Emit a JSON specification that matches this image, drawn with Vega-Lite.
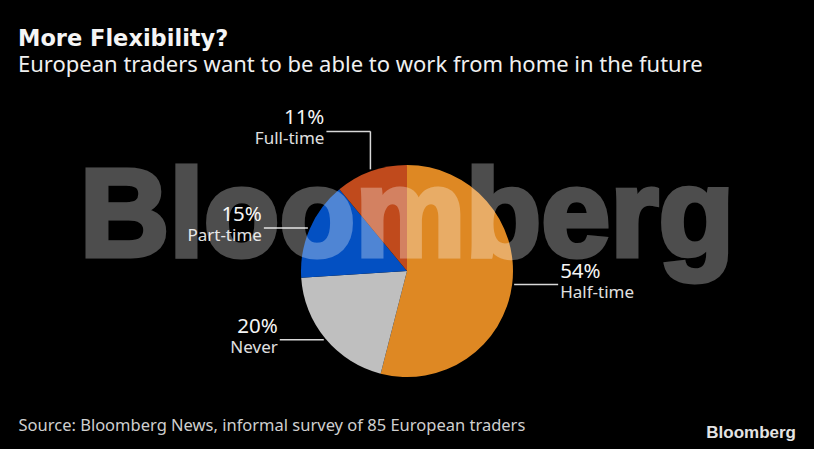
{
  "$schema": "https://vega.github.io/schema/vega-lite/v6.json",
  "width": 778,
  "height": 335,
  "autosize": "none",
  "padding": {"left": 18, "right": 18, "top": 64, "bottom": 50},
  "background": "#000000",
  "config": {"view": {"stroke": null}, "font": "Noto Sans"},
  "title": {
    "text": "More Flexibility?",
    "subtitle": "European traders want to be able to work from home in the future",
    "anchor": "start",
    "frame": "group",
    "offset": -12,
    "color": "#f5f5f5",
    "font": "DejaVu Sans",
    "fontSize": 22.5,
    "fontWeight": "bold",
    "subtitleColor": "#f0f0f0",
    "subtitleFont": "Noto Sans",
    "subtitleFontSize": 22,
    "subtitlePadding": 5
  },
  "data": {
    "values": [
      {"label": "Half-time", "share": 54, "rank": 1},
      {"label": "Never", "share": 20, "rank": 2},
      {"label": "Part-time", "share": 15, "rank": 3},
      {"label": "Full-time", "share": 11, "rank": 4}
    ]
  },
  "transform": [
    {"window": [{"op": "sum", "field": "share", "as": "cum"}], "sort": [{"field": "rank"}], "frame": [null, 0]},
    {"calculate": "(datum.cum - datum.share / 2) / 100 * 2 * PI", "as": "mid"},
    {"calculate": "108 * sin(datum.mid)", "as": "edgeX"},
    {"calculate": "-108 * cos(datum.mid)", "as": "edgeY"},
    {"calculate": "datum.edgeX > 0 ? 1 : -1", "as": "side"},
    {"calculate": "abs(cos(datum.mid)) > 0.9", "as": "elbow"},
    {"calculate": "datum.elbow ? datum.edgeY - 38 : datum.edgeY", "as": "stemY"},
    {"calculate": "datum.edgeX + datum.side * 44", "as": "endX"},
    {"calculate": "datum.endX + datum.side * 2", "as": "textX"},
    {"calculate": "datum.share + '%'", "as": "pct"}
  ],
  "encoding": {
    "x": {
      "type": "quantitative",
      "scale": {"domain": [-389, 389]},
      "axis": {
        "title": "Source: Bloomberg News, informal survey of 85 European traders",
        "titleAnchor": "start",
        "titleColor": "#cfcfcf",
        "titleFont": "Noto Sans",
        "titleFontSize": 16.5,
        "titleFontWeight": "normal",
        "titlePadding": 18,
        "labels": false,
        "ticks": false,
        "domain": false,
        "grid": false
      }
    },
    "y": {
      "type": "quantitative",
      "scale": {"domain": [-207, 128], "reverse": true},
      "axis": null
    }
  },
  "layer": [
    {
      "mark": {"type": "arc", "outerRadius": 106},
      "encoding": {
        "x": {"datum": 0},
        "y": {"datum": 0},
        "theta": {"field": "share", "type": "quantitative", "stack": true},
        "order": {"field": "rank", "type": "quantitative"},
        "color": {
          "field": "label",
          "type": "nominal",
          "legend": null,
          "scale": {
            "domain": ["Half-time", "Never", "Part-time", "Full-time"],
            "range": ["#de8823", "#bfbfbf", "#0350c2", "#c04a1c"]
          }
        }
      }
    },
    {
      "mark": {"type": "rule", "color": "#d8d8d8", "strokeWidth": 1.5},
      "encoding": {
        "x": {"field": "edgeX"},
        "x2": {"field": "endX"},
        "y": {"field": "stemY"}
      }
    },
    {
      "transform": [{"filter": "datum.elbow"}],
      "mark": {"type": "rule", "color": "#d8d8d8", "strokeWidth": 1.5},
      "encoding": {
        "x": {"field": "edgeX"},
        "y": {"field": "edgeY"},
        "y2": {"field": "stemY"}
      }
    },
    {
      "mark": {
        "type": "text",
        "fontSize": 20.5,
        "color": "#f5f5f5",
        "baseline": "middle",
        "dy": -13,
        "align": {"expr": "datum.side > 0 ? 'left' : 'right'"}
      },
      "encoding": {
        "x": {"field": "textX"},
        "y": {"field": "stemY"},
        "text": {"field": "pct"}
      }
    },
    {
      "mark": {
        "type": "text",
        "fontSize": 17,
        "color": "#e0e0e0",
        "baseline": "middle",
        "dy": 8,
        "align": {"expr": "datum.side > 0 ? 'left' : 'right'"}
      },
      "encoding": {
        "x": {"field": "textX"},
        "y": {"field": "stemY"},
        "text": {"field": "label"}
      }
    },
    {
      "data": {"values": [{"name": "Bloomberg"}]},
      "mark": {
        "type": "text",
        "font": "Liberation Sans",
        "fontWeight": "bold",
        "fontSize": 124,
        "fill": "#ffffff",
        "stroke": "#ffffff",
        "strokeWidth": 5,
        "opacity": 0.3,
        "align": "center",
        "baseline": "alphabetic",
        "dy": -15
      },
      "encoding": {
        "x": {"datum": 0},
        "y": {"datum": 0},
        "text": {"field": "name"}
      }
    },
    {
      "data": {"values": [{"name": "Bloomberg"}]},
      "mark": {
        "type": "text",
        "font": "Liberation Sans",
        "fontWeight": "bold",
        "fontSize": 17,
        "color": "#e4e4e4",
        "align": "right",
        "baseline": "middle",
        "dy": 34
      },
      "encoding": {
        "x": {"datum": 389},
        "y": {"datum": 128},
        "text": {"field": "name"}
      }
    }
  ]
}
